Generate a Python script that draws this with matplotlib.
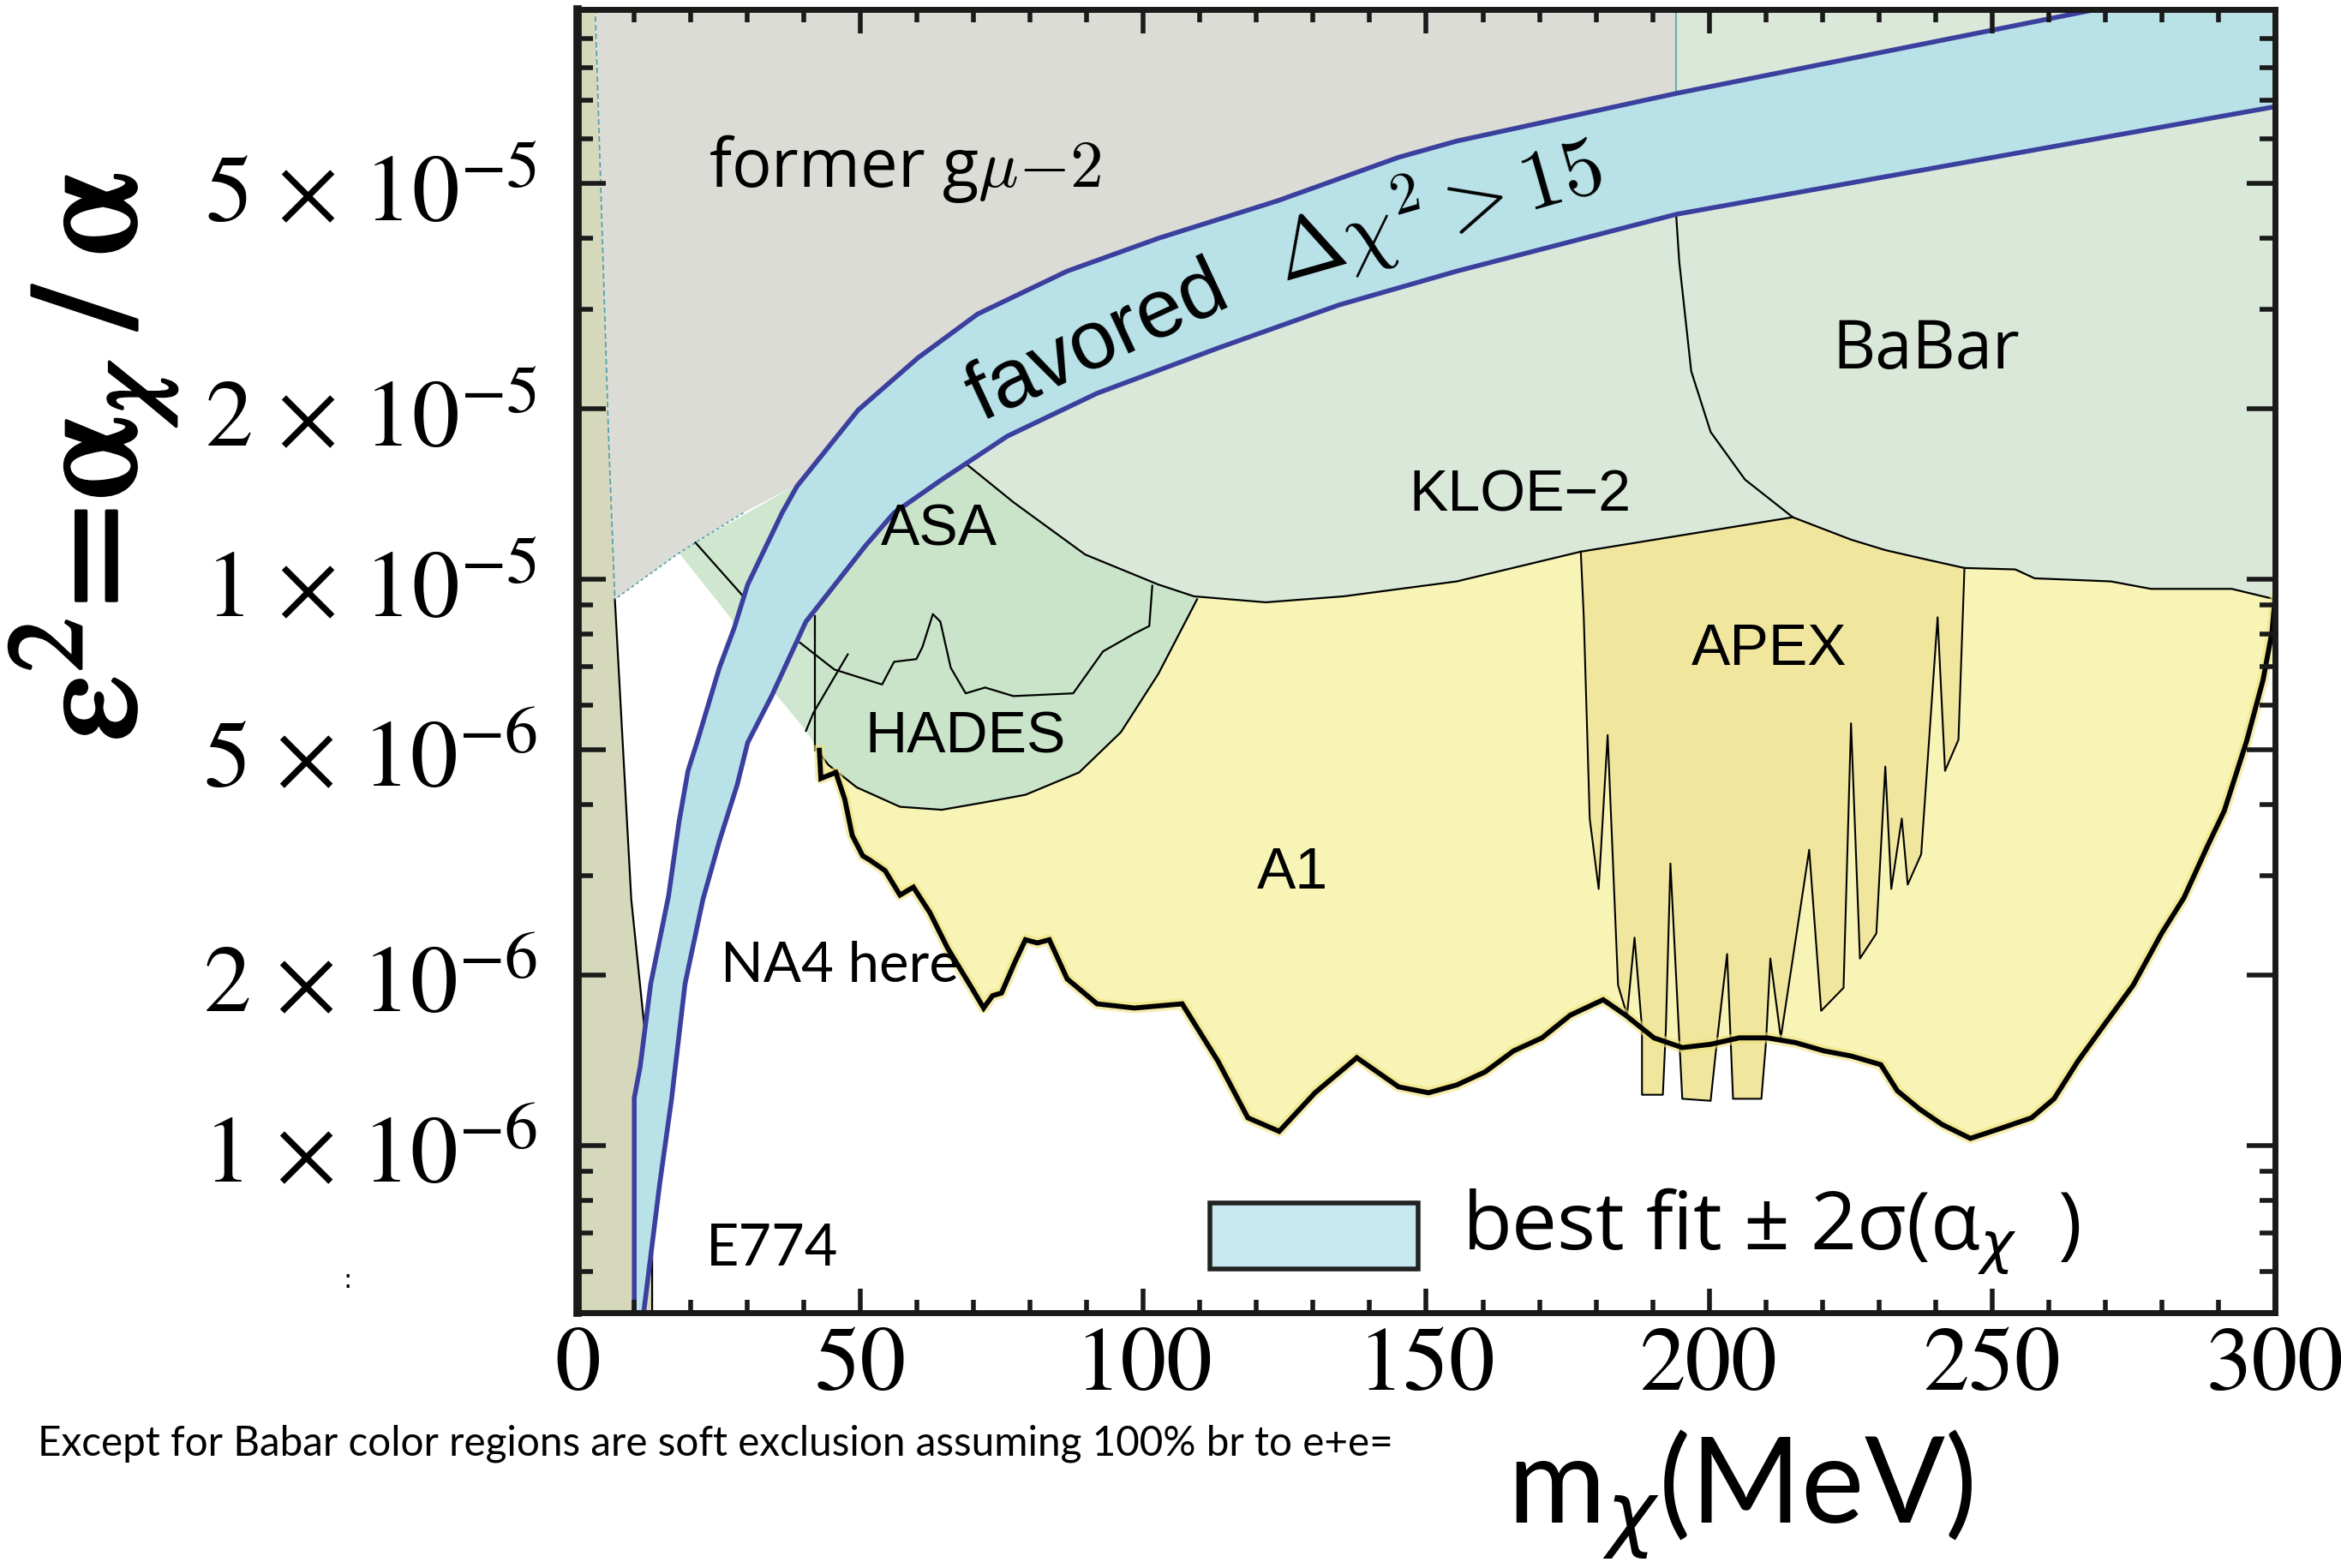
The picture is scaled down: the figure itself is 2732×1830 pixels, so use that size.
import matplotlib
matplotlib.use("Agg")
import matplotlib.pyplot as plt
from matplotlib.patches import Polygon, Rectangle
from matplotlib.ticker import FixedLocator, NullFormatter
import matplotlib.patheffects as pe

plt.rcParams['mathtext.fontset'] = 'stix'

# ---------------- data: dark-photon mass m_X [MeV] vs eps^2 = alpha_X/alpha ----------------
# favoured band, upper/left edge (from low mass upwards)
band_up_m = [10.03, 10.03, 11.08, 12.93, 16.09, 17.94, 19.52, 21.11, 25.07, 27.70, 30.08, 36.15,
             38.79, 49.60, 60.16, 70.71, 86.54, 102.64, 123.75, 145.12, 155.41, 194.19, 268.07, 300.0]
band_up_eps = [5.0e-7, 1.215e-6, 1.38e-6, 1.93e-6, 2.76e-6, 3.73e-6, 4.59e-6, 5.15e-6, 6.98e-6, 8.21e-6,
               9.79e-6, 1.31e-5, 1.46e-5, 1.99e-5, 2.46e-5, 2.94e-5, 3.50e-5, 4.00e-5, 4.66e-5, 5.56e-5,
               5.94e-5, 7.21e-5, 1.013e-4, 1.17e-4]
# favoured band, lower/right edge
band_lo_m = [11.61, 14.51, 16.62, 19.00, 22.16, 25.07, 28.23, 30.08, 34.30, 40.37, 50.92, 55.94,
             64.38, 75.99, 91.82, 113.19, 134.56, 155.41, 194.19, 300.0]
band_lo_eps = [5.0e-7, 8.54e-7, 1.208e-6, 1.93e-6, 2.72e-6, 3.45e-6, 4.34e-6, 5.15e-6, 6.22e-6, 8.42e-6,
               1.147e-5, 1.31e-5, 1.50e-5, 1.79e-5, 2.13e-5, 2.56e-5, 3.05e-5, 3.50e-5, 4.41e-5, 6.83e-5]

# E774 beam-dump boundary
e774_m = [2.90, 5.54, 6.60, 9.50, 11.87, 13.19, 13.19]
e774_eps = [1.2e-4, 1.72e-5, 9.22e-6, 2.72e-6, 1.60e-6, 6.54e-7, 4.0e-7]

# former (g-2)_mu lower-left edge
gmu_edge_m = [38.79, 29.29, 20.84, 17.94, 6.60]
gmu_edge_eps = [1.47e-5, 1.31e-5, 1.161e-5, 1.113e-5, 9.22e-6]
gmu_split_m = 194.19

# small wedge left of the band
wedge_m = [17.94, 20.84, 38.79, 46.97, 42.48, 42.48, 42.22, 40.37, 35.36, 31.13, 27.18]
wedge_eps = [1.113e-5, 1.161e-5, 1.47e-5, 1.119e-5, 8.78e-6, 4.935e-6, 5.055e-6, 5.404e-6,
             6.215e-6, 6.89e-6, 8.52e-6]

# ASA + HADES region
hades_m = [39.05, 40.37, 56.20, 66.75, 109.50, 109.50, 102.64, 96.04, 88.65, 79.16, 72.03, 64.38,
           56.99, 49.34, 44.33, 42.74, 41.95, 41.95]
hades_eps = [8.68e-6, 1.054e-5, 1.712e-5, 1.712e-5, 1.427e-5, 9.22e-6, 6.805e-6, 5.372e-6, 4.56e-6,
             4.164e-6, 4.04e-6, 3.918e-6, 3.966e-6, 4.292e-6, 4.702e-6, 4.935e-6, 4.994e-6, 7.779e-6]
# ASA / HADES dividing curve
asa_m = [39.31, 45.38, 53.83, 55.94, 59.89, 60.95, 62.80, 64.12, 65.96, 68.60, 72.03, 77.04, 87.60,
         92.88, 98.42, 101.05, 101.58]
asa_eps = [7.73e-6, 6.93e-6, 6.52e-6, 7.15e-6, 7.23e-6, 7.59e-6, 8.68e-6, 8.42e-6, 6.98e-6, 6.29e-6,
           6.44e-6, 6.22e-6, 6.29e-6, 7.46e-6, 8.02e-6, 8.27e-6, 9.74e-6]
cross_m = [47.76, 41.69, 40.37]
cross_eps = [7.37e-6, 5.81e-6, 5.40e-6]
wedge_line_m = [20.84, 29.29]
wedge_line_eps = [1.161e-5, 9.33e-6]

# KLOE-2 / BaBar lower boundary
kloe_m = [68.60, 77.04, 89.71, 102.64, 108.97, 121.63, 135.36, 155.41, 177.31, 214.78, 225.07, 231.13,
          237.99, 245.12, 254.09, 257.52, 270.97, 278.10, 292.35, 300.0]
kloe_eps = [1.601e-5, 1.368e-5, 1.106e-5, 9.79e-6, 9.33e-6, 9.107e-6, 9.33e-6, 9.915e-6, 1.119e-5,
            1.287e-5, 1.175e-5, 1.126e-5, 1.086e-5, 1.047e-5, 1.041e-5, 1.004e-5, 9.915e-6, 9.618e-6,
            9.618e-6, 9.22e-6]
# BaBar / KLOE-2 separation
babar_m = [194.19, 194.72, 196.83, 200.26, 206.33, 214.78]
babar_eps = [4.36e-5, 3.63e-5, 2.33e-5, 1.82e-5, 1.50e-5, 1.287e-5]

# A1 lower boundary
a1_m = [42.74, 43.01, 45.65, 47.23, 48.55, 50.40, 51.72, 54.35, 56.99, 59.36, 62.27, 65.43, 69.66,
        71.77, 73.35, 74.93, 77.31, 79.16, 81.27, 83.38, 86.54, 91.82, 98.42, 106.86, 113.19, 118.47,
        124.01, 130.34, 137.73, 145.12, 150.40, 155.41, 160.42, 165.43, 170.45, 175.46, 181.27, 185.22,
        190.24, 195.25, 200.26, 205.28, 210.29, 215.30, 220.32, 225.07, 230.34, 233.25, 237.20, 241.16,
        246.17, 251.19, 256.99, 260.95, 265.17, 269.92, 274.93, 279.95, 283.91, 288.13, 291.03, 294.99,
        297.89, 299.47, 300.0]
a1_eps = [4.99e-6, 4.45e-6, 4.56e-6, 4.09e-6, 3.53e-6, 3.25e-6, 3.19e-6, 3.06e-6, 2.77e-6, 2.86e-6,
          2.58e-6, 2.23e-6, 1.90e-6, 1.75e-6, 1.84e-6, 1.86e-6, 2.11e-6, 2.31e-6, 2.28e-6, 2.31e-6,
          1.97e-6, 1.78e-6, 1.75e-6, 1.78e-6, 1.41e-6, 1.12e-6, 1.06e-6, 1.24e-6, 1.43e-6, 1.27e-6,
          1.24e-6, 1.28e-6, 1.35e-6, 1.47e-6, 1.55e-6, 1.70e-6, 1.81e-6, 1.70e-6, 1.55e-6, 1.49e-6,
          1.51e-6, 1.55e-6, 1.55e-6, 1.52e-6, 1.47e-6, 1.44e-6, 1.39e-6, 1.25e-6, 1.16e-6, 1.09e-6,
          1.03e-6, 1.07e-6, 1.12e-6, 1.21e-6, 1.41e-6, 1.64e-6, 1.92e-6, 2.37e-6, 2.74e-6, 3.39e-6,
          3.90e-6, 5.18e-6, 6.64e-6, 8.07e-6, 9.22e-6]

# APEX boundary
apex_m = [177.31, 177.84, 178.89, 180.47, 182.06, 183.90, 185.49, 186.81, 188.13, 188.13, 191.82,
          192.35, 193.15, 195.25, 200.26, 201.32, 203.17, 204.22, 209.23, 210.02, 210.81, 212.66,
          217.68, 219.79, 223.75, 225.07, 226.65, 229.55, 231.13, 232.19, 234.04, 235.09, 237.47,
          240.37, 241.69, 244.06, 245.12]
apex_eps = [1.119e-5, 8.57e-6, 3.78e-6, 2.84e-6, 5.31e-6, 1.92e-6, 1.70e-6, 2.33e-6, 1.61e-6, 1.23e-6,
            1.23e-6, 1.61e-6, 3.15e-6, 1.21e-6, 1.20e-6, 1.51e-6, 2.18e-6, 1.21e-6, 1.21e-6, 1.51e-6,
            2.14e-6, 1.55e-6, 3.33e-6, 1.73e-6, 1.90e-6, 5.57e-6, 2.14e-6, 2.37e-6, 4.67e-6, 2.84e-6,
            3.78e-6, 2.89e-6, 3.27e-6, 8.57e-6, 4.59e-6, 5.21e-6, 1.047e-5]

x_ticks = [0, 50, 100, 150, 200, 250, 300]
x_ticklabels = ['0', '50', '100', '150', '200', '250', '300']
y_ticks = [1e-6, 2e-6, 5e-6, 1e-5, 2e-5, 5e-5]
y_ticklabels = [r'$1\,\times\,10^{-6}$', r'$2\,\times\,10^{-6}$', r'$5\,\times\,10^{-6}$',
                r'$1\,\times\,10^{-5}$', r'$2\,\times\,10^{-5}$', r'$5\,\times\,10^{-5}$']
y_minor = [6e-7, 7e-7, 8e-7, 9e-7, 3e-6, 4e-6, 6e-6, 7e-6, 8e-6, 9e-6,
           3e-5, 4e-5, 6e-5, 7e-5, 8e-5, 9e-5]

# ---------------- colours ----------------
c_gray = '#dcdcd6'
c_e774 = '#d6d8bc'
c_kloe = '#d9e8d9'
c_hades = '#c9e4c9'
c_wedge = '#cfe7cf'
c_a1 = '#f8f4b6'
c_apex = '#f0e69e'
c_band = '#b9e2e8'
c_band_edge = '#3b3f9e'
c_teal = '#4f9ea8'

# ---------------- figure ----------------
fig = plt.figure(figsize=(27.32, 18.31), dpi=100, facecolor='white')
ax = fig.add_axes([0.2467, 0.1627, 0.7251, 0.8307])
ax.set_yscale('log')
ax.set_xlim(0, 300)
ax.set_ylim(5.07e-7, 1.014e-4)

TOP = 1.3e-4


def poly(xs, ys, color, z, **kw):
    p = Polygon(list(zip(xs, ys)), closed=True, facecolor=color, edgecolor='none', zorder=z, **kw)
    ax.add_patch(p)
    return p


# A1 (yellow), filled up to beneath the upper regions
poly(a1_m + [300.0, a1_m[0]], a1_eps + [2e-5, 2e-5], c_a1, 1)
# APEX
poly(apex_m + [apex_m[-1], apex_m[0]], apex_eps + [1.3e-5, 1.3e-5], c_apex, 2)
# wedge and ASA/HADES
poly(wedge_m, wedge_eps, c_wedge, 3)
poly(hades_m, hades_eps, c_hades, 3)
# KLOE-2 / BaBar
poly(kloe_m + [300.0, 56.20, 56.20], kloe_eps + [TOP, TOP, 1.712e-5], c_kloe, 4)
# former (g-2)_mu, closed underneath the band
lo_sel = [(m, e) for m, e in zip(band_lo_m, band_lo_eps) if 55.0 < m <= gmu_split_m]
g_m = [e774_m[0], gmu_split_m] + [m for m, _ in reversed(lo_sel)] + gmu_edge_m + [e774_m[1]]
g_e = [TOP, TOP] + [e for _, e in reversed(lo_sel)] + gmu_edge_eps + [e774_eps[1]]
poly(g_m, g_e, c_gray, 5)
# E774 strip
poly([0, 0] + e774_m, [4e-7, TOP] + e774_eps, c_e774, 6)

# boundary lines
lk = dict(color='black', lw=1.6, zorder=7, solid_joinstyle='round')
ax.plot(kloe_m, kloe_eps, **lk)
ax.plot(babar_m, babar_eps, **lk)
ax.plot(hades_m[5:16], hades_eps[5:16], **lk)
ax.plot(asa_m, asa_eps, **lk)
ax.plot(cross_m, cross_eps, **lk)
ax.plot(wedge_line_m, wedge_line_eps, **lk)
ax.plot([41.95, 41.95], [8.6e-6, 4.99e-6], **lk)
ax.plot(apex_m, apex_eps, color='black', lw=1.5, zorder=7)
ax.plot(e774_m[2:], e774_eps[2:], color='black', lw=1.6, zorder=7)
ax.plot(e774_m[:3], e774_eps[:3], color=c_teal, lw=1.2, ls=(0, (4, 2)), zorder=7)
ax.plot(gmu_edge_m[1:], gmu_edge_eps[1:], color=c_teal, lw=1.2, ls=(0, (2, 2)), zorder=7)
ax.plot([gmu_split_m, gmu_split_m], [7.21e-5, TOP], color=c_teal, lw=1.2, zorder=7)
# A1 jagged edge with its yellow halo
ax.plot(a1_m, a1_eps, color='#efe27a', lw=9, alpha=0.6, zorder=7, solid_joinstyle='round')
ax.plot(a1_m, a1_eps, color='black', lw=4.2, zorder=7.5, solid_joinstyle='miter')

# favoured band
band_xy = list(zip(band_up_m, band_up_eps)) + list(zip(reversed(band_lo_m), reversed(band_lo_eps)))
ax.add_patch(Polygon(band_xy, closed=True, facecolor=c_band, edgecolor='none', zorder=8))
ax.plot(band_up_m, band_up_eps, color=c_band_edge, lw=4, zorder=9, solid_joinstyle='round')
ax.plot(band_lo_m, band_lo_eps, color=c_band_edge, lw=4, zorder=9, solid_joinstyle='round')

# ---------------- axes styling ----------------
for side in ['top', 'right', 'bottom']:
    ax.spines[side].set_linewidth(5)
ax.spines['left'].set_linewidth(7)
for s in ax.spines.values():
    s.set_color('#1a1a1a')
    s.set_zorder(12)
ax.xaxis.set_zorder(11)
ax.yaxis.set_zorder(11)

ax.set_xticks(x_ticks)
ax.set_xticklabels(x_ticklabels, fontfamily='STIXGeneral', fontsize=77)
ax.xaxis.set_minor_locator(FixedLocator(list(range(0, 301, 10))))
ax.tick_params(axis='x', which='major', direction='in', length=20, width=4, top=True, pad=12,
               color='#1a1a1a')
ax.tick_params(axis='x', which='minor', direction='in', length=11, width=4, top=True, color='#1a1a1a')

ax.yaxis.set_major_locator(FixedLocator(y_ticks))
ax.set_yticklabels(y_ticklabels, fontsize=80)
ax.yaxis.set_minor_locator(FixedLocator(y_minor))
ax.yaxis.set_minor_formatter(NullFormatter())
ax.tick_params(axis='y', which='major', direction='in', length=24, width=4, left=True, right=True,
               pad=34, color='#1a1a1a')
ax.tick_params(axis='y', which='minor', direction='in', length=13, width=4, left=True, right=True,
               color='#1a1a1a')

# ---------------- labels inside the plot ----------------
arial = 'Liberation Sans'
myriad = 'Open Sans'
futura = 'Lato'
ax.text(23.2, 4.95e-5, r'former g$\mu{-}2$', fontsize=56, family=myriad, math_fontfamily='cm',
        ha='left', va='baseline', zorder=10)
ax.text(92.0, 2.62e-5, 'favored', fontsize=70, family=arial, rotation=25,
        rotation_mode='anchor', ha='center', va='center', zorder=10)
ax.text(152.0, 4.50e-5, r'$\Delta\chi^2 > 15$', fontsize=70, math_fontfamily='cm', rotation=16,
        rotation_mode='anchor', ha='center', va='center', zorder=10)
ax.text(238.3, 2.54e-5, 'BaBar', fontsize=56, family=myriad, ha='center', va='center', zorder=10)
ax.text(166.5, 1.41e-5, 'KLOE\u22122', fontsize=49, family=arial, ha='center', va='center', zorder=10)
ax.text(63.9, 1.226e-5, 'ASA', fontsize=49, family=arial, ha='center', va='center', zorder=10)
ax.text(68.6, 5.28e-6, 'HADES', fontsize=49, family=arial, ha='center', va='center', zorder=10)
ax.text(126.4, 3.04e-6, 'A1', fontsize=49, family=arial, ha='center', va='center', zorder=10)
ax.text(210.6, 7.55e-6, 'APEX', fontsize=49, family=arial, ha='center', va='center', zorder=10)
ax.text(25.3, 1.95e-6, 'NA4 here', fontsize=47, family=futura, ha='left', va='baseline', zorder=10)
ax.text(22.7, 6.16e-7, 'E774', fontsize=48, family=futura, ha='left', va='baseline', zorder=10)

# legend entry for the band
ax.add_patch(Rectangle((0.3725, 0.0335), 0.1227, 0.0507, transform=ax.transAxes,
                       facecolor='#c8e9f0', edgecolor='#222222', lw=4, zorder=10))
ax.text(0.521, 0.0493, r'best fit ± 2σ(α$_{\chi}$  )', transform=ax.transAxes, fontsize=68,
        family=myriad, math_fontfamily='dejavusans', ha='left', va='baseline', zorder=10)

# ---------------- axis titles and note ----------------
fig.text(0.040, 0.708,
         r'$\mathrm{\varepsilon}^2\!=\!\mathrm{\alpha}_\chi\;/\;\mathrm{\alpha}$',
         fontsize=128, rotation=90, ha='center', va='center',
         path_effects=[pe.withStroke(linewidth=2.5, foreground='black')])
fig.text(0.6439, 0.0295, r'm$_{\chi}$(MeV)', fontsize=100, family=futura,
         math_fontfamily='dejavusans', ha='left', va='baseline')
fig.text(0.0161, 0.0726, 'Except for Babar color regions are soft exclusion assuming 100% br to e+e=',
         fontsize=34.3, family=futura, ha='left', va='baseline')
fig.text(406 / 2732, 1 - 1495 / 1831, ':', fontsize=22, ha='center', va='center')

fig.savefig('out.png', dpi=100, facecolor='white')
